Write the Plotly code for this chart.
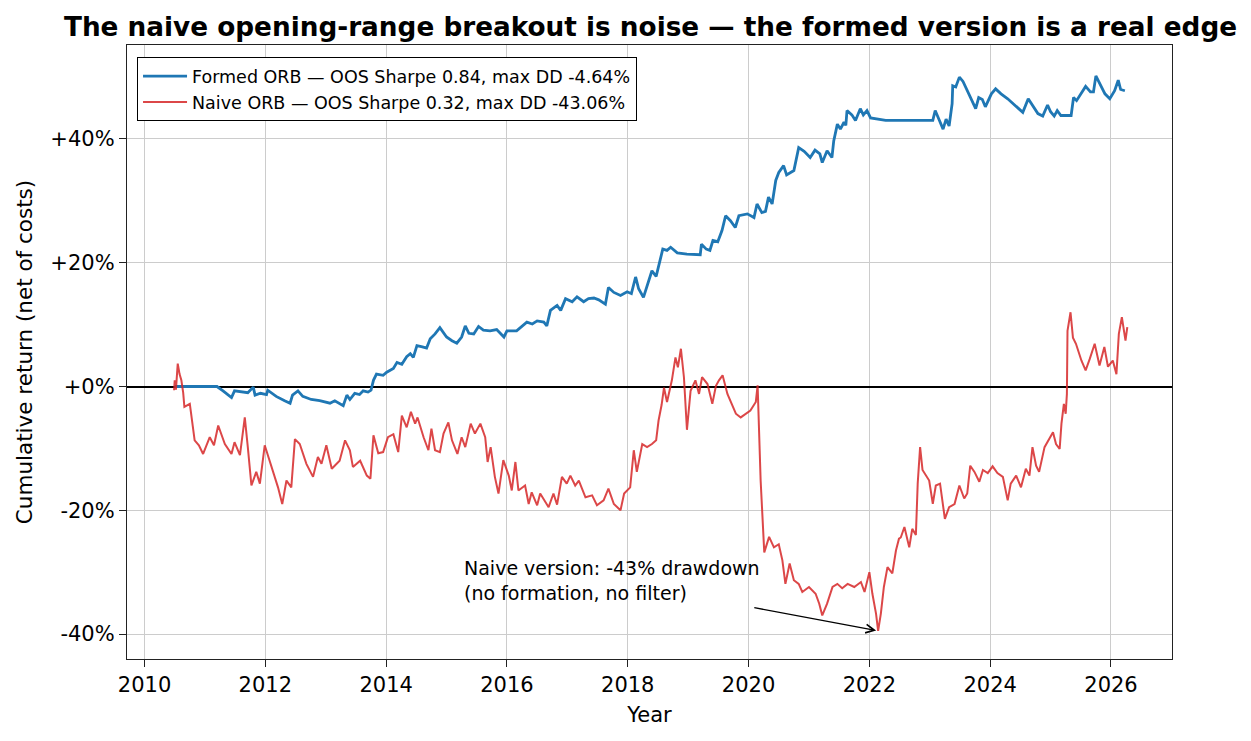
import plotly.graph_objects as go

# ---------------- data (decimal year, cumulative return %) ----------------
formed_years = [
    2010.50, 2011.20, 2011.30, 2011.44, 2011.49, 2011.60, 2011.71, 2011.80, 2011.83, 2011.92,
    2012.02, 2012.04, 2012.18, 2012.32, 2012.41, 2012.45, 2012.54, 2012.62, 2012.76, 2012.90,
    2013.07, 2013.15, 2013.29, 2013.35, 2013.40, 2013.48, 2013.56, 2013.62, 2013.70, 2013.75,
    2013.79, 2013.84, 2013.95, 2014.01, 2014.12, 2014.18, 2014.26, 2014.34, 2014.40, 2014.45,
    2014.51, 2014.60, 2014.67, 2014.73, 2014.81, 2014.89, 2015.00, 2015.09, 2015.17, 2015.25,
    2015.31, 2015.37, 2015.45, 2015.53, 2015.61, 2015.72, 2015.83, 2015.95, 2016.00, 2016.16,
    2016.25, 2016.33, 2016.42, 2016.50, 2016.61, 2016.66, 2016.72, 2016.83, 2016.89, 2016.97,
    2017.08, 2017.16, 2017.27, 2017.35, 2017.44, 2017.52, 2017.63, 2017.68, 2017.77, 2017.88,
    2017.99, 2018.06, 2018.13, 2018.18, 2018.26, 2018.35, 2018.40, 2018.47, 2018.54, 2018.58,
    2018.65, 2018.71, 2018.82, 2018.98, 2019.20, 2019.22, 2019.30, 2019.36, 2019.41, 2019.49,
    2019.56, 2019.62, 2019.70, 2019.78, 2019.84, 2019.98, 2020.09, 2020.14, 2020.22, 2020.28,
    2020.33, 2020.39, 2020.45, 2020.50, 2020.58, 2020.63, 2020.75, 2020.83, 2020.92, 2021.02,
    2021.10, 2021.18, 2021.22, 2021.30, 2021.38, 2021.41, 2021.47, 2021.52, 2021.58, 2021.61,
    2021.63, 2021.71, 2021.77, 2021.85, 2021.90, 2021.96, 2022.02, 2022.16, 2022.27, 2023.05,
    2023.09, 2023.16, 2023.22, 2023.27, 2023.32, 2023.37, 2023.38, 2023.43, 2023.49, 2023.55,
    2023.60, 2023.68, 2023.76, 2023.81, 2023.87, 2023.92, 2024.02, 2024.09, 2024.18, 2024.29,
    2024.37, 2024.45, 2024.54, 2024.63, 2024.71, 2024.79, 2024.87, 2024.95, 2025.00, 2025.06,
    2025.11, 2025.17, 2025.34, 2025.38, 2025.43, 2025.49, 2025.58, 2025.66, 2025.71, 2025.75,
    2025.84, 2025.90, 2025.98, 2026.06, 2026.12, 2026.16, 2026.23,
]
formed_values = [
    0.0, 0.0, -0.7, -1.8, -0.7, -0.9, -1.0, -0.1, -1.4, -1.1,
    -1.3, -0.6, -1.6, -2.3, -2.7, -1.4, -0.7, -1.6, -2.1, -2.3,
    -2.7, -2.3, -3.1, -1.4, -2.1, -1.1, -1.3, -0.7, -0.9, -0.6,
    1.0, 2.0, 1.8, 2.3, 2.9, 3.9, 3.6, 4.8, 5.3, 4.7,
    6.6, 6.4, 6.2, 7.7, 8.5, 9.5, 8.0, 7.4, 7.0, 8.0,
    9.8, 8.6, 8.5, 9.7, 9.1, 9.0, 9.2, 8.0, 9.0, 9.0,
    9.7, 10.4, 10.1, 10.6, 10.4, 9.8, 12.3, 13.1, 12.3, 14.2,
    13.7, 14.5, 13.7, 14.2, 14.3, 14.0, 13.3, 16.0, 15.2, 14.7,
    15.3, 15.0, 17.7, 15.8, 14.4, 17.1, 18.7, 17.8, 20.4, 22.2,
    22.0, 22.5, 21.6, 21.4, 21.3, 23.0, 22.2, 22.0, 23.6, 23.4,
    25.2, 27.6, 26.8, 25.7, 27.6, 27.9, 27.3, 29.5, 28.1, 28.3,
    30.6, 29.5, 33.3, 34.6, 35.7, 34.2, 34.9, 38.6, 38.0, 37.0,
    38.2, 37.6, 36.2, 38.1, 37.0, 39.7, 42.4, 41.6, 42.7, 42.2,
    44.6, 43.9, 43.0, 44.9, 43.9, 44.6, 43.4, 43.2, 43.0, 43.0,
    44.6, 43.0, 41.6, 43.2, 42.1, 45.7, 48.6, 48.4, 50.0, 49.3,
    48.2, 46.7, 44.9, 46.7, 46.4, 45.2, 47.3, 48.1, 47.3, 46.5,
    45.8, 45.2, 44.3, 46.5, 45.2, 44.1, 43.7, 45.5, 44.4, 43.7,
    44.6, 43.8, 43.8, 46.7, 46.2, 47.1, 48.5, 47.6, 47.6, 50.2,
    48.4, 47.3, 46.5, 47.8, 49.5, 48.0, 47.8,
]

naive_years = [
    2010.49, 2010.50, 2010.52, 2010.55, 2010.58, 2010.61, 2010.64, 2010.66, 2010.75, 2010.83,
    2010.90, 2010.97, 2011.08, 2011.15, 2011.22, 2011.33, 2011.44, 2011.49, 2011.58, 2011.66,
    2011.71, 2011.77, 2011.85, 2011.91, 2011.99, 2012.10, 2012.21, 2012.28, 2012.35, 2012.43,
    2012.49, 2012.57, 2012.68, 2012.79, 2012.87, 2012.93, 2013.01, 2013.10, 2013.23, 2013.32,
    2013.40, 2013.45, 2013.57, 2013.68, 2013.74, 2013.79, 2013.87, 2013.95, 2014.03, 2014.12,
    2014.20, 2014.26, 2014.34, 2014.41, 2014.48, 2014.52, 2014.62, 2014.70, 2014.75, 2014.81,
    2014.89, 2014.95, 2015.03, 2015.09, 2015.18, 2015.25, 2015.31, 2015.40, 2015.47, 2015.56,
    2015.64, 2015.68, 2015.73, 2015.80, 2015.86, 2015.94, 2016.03, 2016.08, 2016.14, 2016.19,
    2016.30, 2016.36, 2016.41, 2016.50, 2016.55, 2016.69, 2016.77, 2016.83, 2016.91, 2016.99,
    2017.05, 2017.13, 2017.19, 2017.30, 2017.41, 2017.49, 2017.60, 2017.68, 2017.77, 2017.88,
    2017.94, 2018.04, 2018.10, 2018.15, 2018.24, 2018.32, 2018.40, 2018.47, 2018.51, 2018.56,
    2018.60, 2018.65, 2018.73, 2018.79, 2018.83, 2018.88, 2018.93, 2018.98, 2019.04, 2019.12,
    2019.18, 2019.23, 2019.32, 2019.40, 2019.46, 2019.51, 2019.57, 2019.65, 2019.73, 2019.79,
    2019.87, 2019.95, 2020.03, 2020.12, 2020.15, 2020.20, 2020.24, 2020.26, 2020.34, 2020.42,
    2020.50, 2020.56, 2020.61, 2020.68, 2020.75, 2020.83, 2020.89, 2021.00, 2021.11, 2021.17,
    2021.22, 2021.30, 2021.39, 2021.47, 2021.55, 2021.64, 2021.75, 2021.86, 2021.92, 2022.00,
    2022.05, 2022.11, 2022.145, 2022.19, 2022.24, 2022.30, 2022.38, 2022.44, 2022.49, 2022.52,
    2022.58, 2022.66, 2022.71, 2022.77, 2022.80, 2022.84, 2022.88, 2022.94, 2022.99, 2023.05,
    2023.10, 2023.17, 2023.25, 2023.32, 2023.41, 2023.49, 2023.57, 2023.62, 2023.67, 2023.74,
    2023.82, 2023.88, 2023.96, 2024.04, 2024.12, 2024.21, 2024.29, 2024.34, 2024.43, 2024.51,
    2024.59, 2024.65, 2024.70, 2024.76, 2024.81, 2024.90, 2024.98, 2025.04, 2025.09, 2025.15,
    2025.18, 2025.22, 2025.25, 2025.27, 2025.28, 2025.33, 2025.37, 2025.42, 2025.51, 2025.58,
    2025.65, 2025.73, 2025.81, 2025.89, 2025.95, 2026.03, 2026.09, 2026.13, 2026.18, 2026.24,
    2026.27,
]
naive_values = [
    -0.6, 1.0, -0.5, 3.7, 2.0, 1.0, -1.0, -3.3, -2.8, -8.7,
    -9.5, -10.9, -8.2, -9.5, -6.3, -9.3, -10.9, -9.0, -11.1, -5.0,
    -9.8, -16.0, -13.8, -15.7, -9.5, -13.0, -16.3, -19.0, -15.2, -16.3,
    -8.5, -9.3, -12.5, -14.6, -11.4, -12.5, -9.5, -13.3, -12.0, -8.7,
    -10.3, -13.0, -12.0, -14.4, -14.9, -7.9, -10.8, -10.6, -8.2, -7.7,
    -10.6, -4.7, -6.6, -4.1, -6.0, -5.0, -8.2, -10.3, -6.8, -10.3,
    -10.6, -7.6, -5.8, -8.7, -10.9, -8.2, -9.8, -6.0, -7.6, -6.0,
    -8.2, -12.2, -9.8, -14.6, -17.3, -11.9, -14.4, -16.8, -12.2, -16.8,
    -16.0, -19.0, -17.1, -19.2, -17.3, -19.5, -17.3, -19.1, -14.6, -15.7,
    -14.4, -16.0, -15.2, -17.9, -17.6, -19.2, -18.4, -16.5, -19.0, -20.0,
    -17.3, -16.3, -10.3, -13.8, -9.3, -9.8, -9.3, -8.7, -5.5, -3.0,
    -0.2, -2.5, 1.0, 4.7, 3.1, 6.1, 1.5, -7.0, -0.7, 1.0,
    -1.2, 1.5, 0.4, -2.8, 0.1, 1.0, 1.8, -1.2, -3.1, -4.4,
    -5.0, -4.4, -3.9, -2.5, 0.2, -15.2, -24.9, -26.8, -24.3, -26.0,
    -25.5, -28.1, -31.9, -28.6, -31.3, -31.9, -33.2, -32.4, -33.5, -35.1,
    -37.0, -35.1, -32.4, -31.9, -32.6, -31.9, -32.4, -31.6, -33.2, -30.0,
    -33.5, -36.7, -39.5, -36.7, -32.4, -29.2, -30.2, -26.5, -24.6, -24.4,
    -22.7, -26.0, -23.0, -24.0, -15.7, -9.8, -13.5, -14.4, -15.2, -18.95,
    -16.0, -15.7, -21.4, -19.5, -19.0, -16.0, -18.1, -17.3, -12.8, -13.8,
    -15.4, -13.5, -14.0, -12.9, -14.0, -14.6, -18.4, -15.7, -14.4, -16.3,
    -13.3, -14.4, -9.8, -12.8, -13.8, -9.8, -8.5, -7.4, -9.3, -10.1,
    -6.0, -2.8, -4.4, -1.2, 9.0, 12.0, 7.9, 6.9, 4.2, 2.6,
    4.5, 6.9, 3.4, 6.4, 3.2, 4.2, 2.0, 8.5, 11.2, 7.4,
    9.6,
]

formed_label = "Formed ORB — OOS Sharpe 0.84, max DD -4.64%"
naive_label = "Naive ORB — OOS Sharpe 0.32, max DD -43.06%"

x_ticks = [2010, 2012, 2014, 2016, 2018, 2020, 2022, 2024, 2026]
y_ticks = [-40, -20, 0, 20, 40]
y_tick_text = ["-40%", "-20%", "+0%", "+20%", "+40%"]

trough_point = (2022.145, -39.5)
arrow_tail = (2020.07, -35.7)
note_pos = (2015.25, -27.2)

FONT = "DejaVu Sans"

fig = go.Figure()
fig.add_trace(go.Scatter(
    x=formed_years, y=formed_values, mode="lines", name=formed_label,
    line=dict(color="#1f77b4", width=2.8),
))
fig.add_trace(go.Scatter(
    x=naive_years, y=naive_values, mode="lines", name=naive_label,
    line=dict(color="rgba(214,39,40,0.85)", width=2.0),
))

fig.add_annotation(x=trough_point[0], y=trough_point[1], ax=arrow_tail[0], ay=arrow_tail[1],
                   xref="x", yref="y", axref="x", ayref="y", text="",
                   showarrow=True, arrowhead=5, arrowsize=1.3, arrowwidth=1.3,
                   arrowcolor="black", standoff=2)
fig.add_annotation(x=note_pos[0], y=note_pos[1], xref="x", yref="y",
                   text="Naive version: -43% drawdown<br>(no formation, no filter)",
                   showarrow=False, xanchor="left", yanchor="top", align="left",
                   font=dict(family=FONT, size=19, color="black"))

axis_common = dict(
    showline=True, linecolor="#222222", linewidth=1.3, mirror=True,
    ticks="outside", ticklen=7, tickwidth=1.3, tickcolor="#222222",
    showgrid=True, gridcolor="#cccccc", gridwidth=1,
    tickfont=dict(family=FONT, size=21, color="black"),
)

fig.update_xaxes(range=[2009.71, 2027.01], tickvals=x_ticks,
                 ticktext=[str(v) for v in x_ticks], zeroline=False,
                 title=dict(text="Year", font=dict(family=FONT, size=21, color="black"), standoff=10),
                 **axis_common)
fig.update_yaxes(range=[-44.04, 55.19], tickvals=y_ticks, ticktext=y_tick_text,
                 zeroline=True, zerolinecolor="black", zerolinewidth=1.5,
                 title=dict(text="Cumulative return (net of costs)",
                            font=dict(family=FONT, size=21.5, color="black"), standoff=11),
                 **axis_common)

fig.update_layout(
    width=1251, height=741,
    margin=dict(l=127, r=79, t=45, b=82, autoexpand=False),
    paper_bgcolor="white", plot_bgcolor="white",
    font=dict(family=FONT, size=17, color="black"),
    title=dict(text="<b>The naive opening-range breakout is noise — the formed version is a real edge</b>",
               x=0.52, xanchor="center", y=0.964, yanchor="middle", yref="container",
               font=dict(family=FONT, size=26.3, color="black")),
    legend=dict(x=0.0096, y=0.98, xanchor="left", yanchor="top",
                bgcolor="white", bordercolor="black", borderwidth=1, itemwidth=44,
                font=dict(family=FONT, size=17.5, color="black")),
    showlegend=True,
)

fig.write_html("out.html")
